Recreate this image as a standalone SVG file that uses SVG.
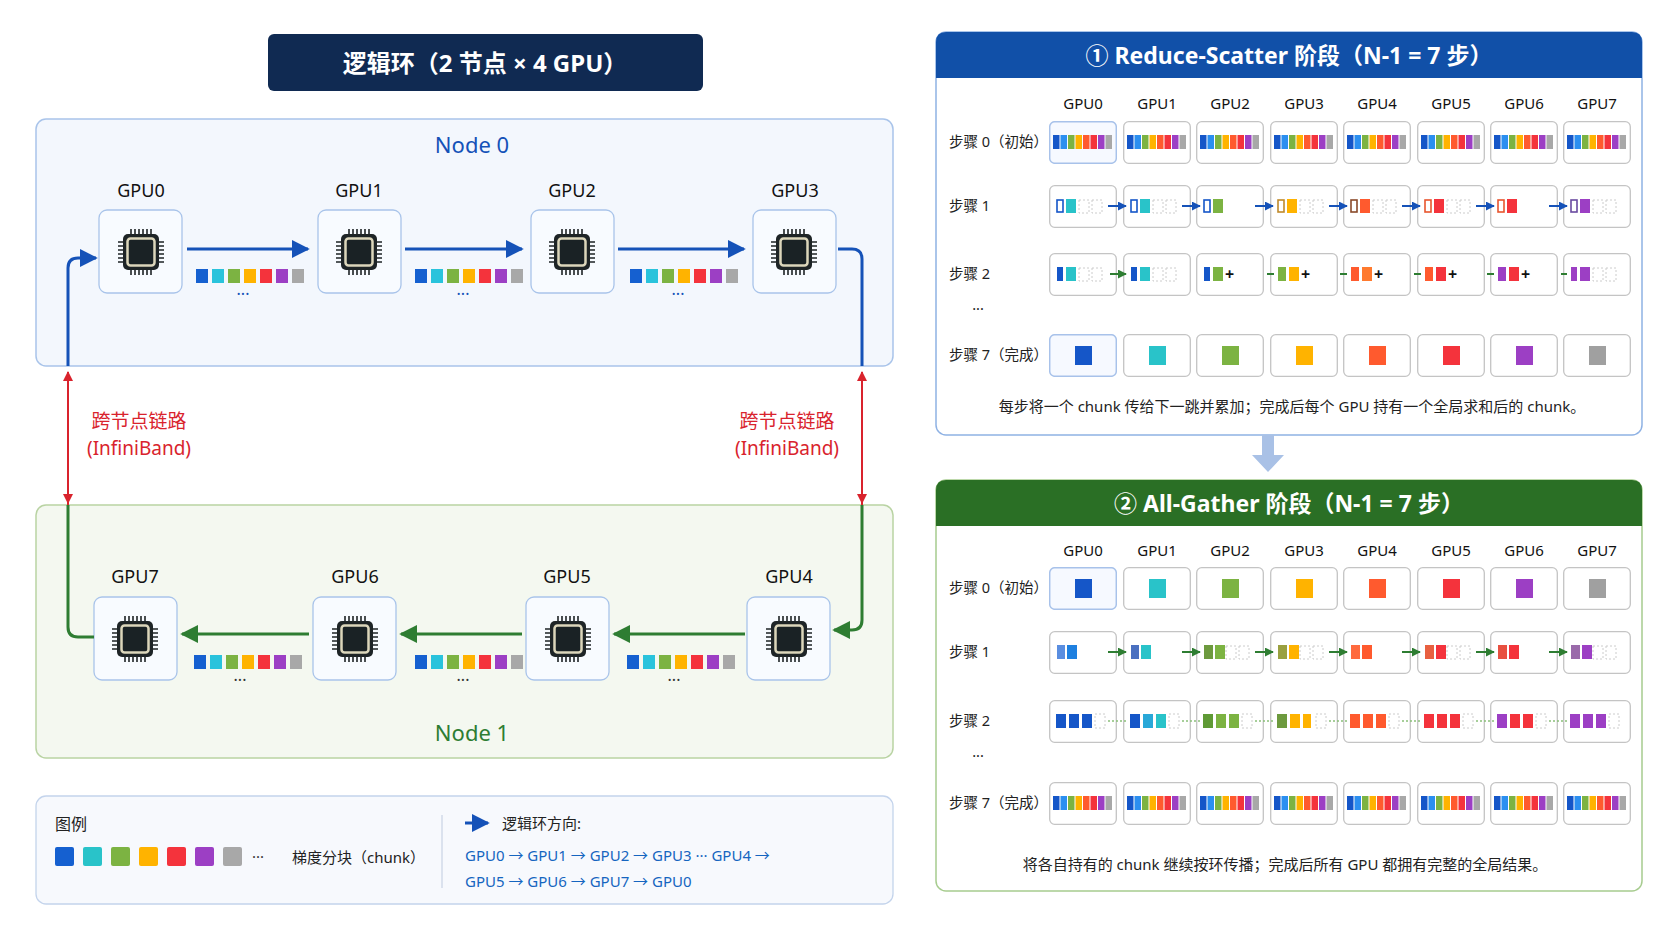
<svg xmlns="http://www.w3.org/2000/svg" xmlns:xlink="http://www.w3.org/1999/xlink" width="1672" height="941" viewBox="0 0 1672 941">
<style>
text{font-family:"Noto Sans","Noto Sans CJK SC",sans-serif;}
.gl{font-size:18px;fill:#111;text-anchor:middle;}
.gb{fill:#f8fbff;stroke:#a9c4ea;stroke-width:1.3;}
.cell{fill:#fff;stroke:#c4c4c4;stroke-width:1.3;}
.cellh{fill:#f6f9ff;stroke:#a8c2ea;stroke-width:1.5;}
.hd{font-size:15px;fill:#111;text-anchor:middle;}
.rl{font-size:14.5px;fill:#222;}
.dsh{fill:none;stroke:#ccc;stroke-dasharray:2 2;}
.rd{stroke:#d9232d;stroke-width:2;stroke-dasharray:6 5;fill:none;}
.red{font-size:19px;fill:#d9232d;text-anchor:middle;}
.bl{fill:#1565c0;font-size:15px;}
</style>
<defs>
<marker id="ab" viewBox="0 0 10 10" refX="9" refY="5" markerWidth="4.5" markerHeight="4.5" orient="auto"><path d="M0,0L10,5L0,10z" fill="#1552b8"/></marker>
<marker id="ag" viewBox="0 0 10 10" refX="9" refY="5" markerWidth="4.5" markerHeight="4.5" orient="auto"><path d="M0,0L10,5L0,10z" fill="#2e7d32"/></marker>
<marker id="ar" viewBox="0 0 10 10" refX="9" refY="5" markerWidth="5" markerHeight="5" orient="auto"><path d="M0,0L10,5L0,10z" fill="#d9232d"/></marker>
<marker id="sb" viewBox="0 0 10 10" refX="9" refY="5" markerWidth="6" markerHeight="6" orient="auto"><path d="M0,0L10,5L0,10z" fill="#1552b8"/></marker>
<marker id="sg" viewBox="0 0 10 10" refX="9" refY="5" markerWidth="6" markerHeight="6" orient="auto"><path d="M0,0L10,5L0,10z" fill="#2e7d32"/></marker>
<symbol id="chip" viewBox="0 0 50 50" width="50" height="50">
<g stroke="#1e2426" stroke-width="1.6">
<path d="M15,2v6M19,2v6M23,2v6M27,2v6M31,2v6M35,2v6M15,42v6M19,42v6M23,42v6M27,42v6M31,42v6M35,42v6M2,15h6M2,19h6M2,23h6M2,27h6M2,31h6M2,35h6M42,15h6M42,19h6M42,23h6M42,27h6M42,31h6M42,35h6"/></g>
<rect x="7" y="7" width="36" height="36" rx="5" fill="#1e2426"/>
<rect x="11.5" y="11.5" width="27" height="27" rx="3" fill="#1a2225" stroke="#dcd6bb" stroke-width="2.5"/>
</symbol>
<symbol id="s7" viewBox="0 0 108 14" width="108" height="14">
<rect x="0" y="0" width="12" height="14" fill="#1560d0"/><rect x="16" y="0" width="12" height="14" fill="#29c3dc"/><rect x="32" y="0" width="12" height="14" fill="#7cb342"/><rect x="48" y="0" width="12" height="14" fill="#ffb300"/><rect x="64" y="0" width="12" height="14" fill="#f4333c"/><rect x="80" y="0" width="12" height="14" fill="#9c3fc4"/><rect x="96" y="0" width="12" height="14" fill="#a8a8a8"/>
</symbol>
<symbol id="s8" viewBox="0 0 68 43" width="68" height="43">
<rect x="4" y="14" width="6.5" height="14" fill="#1556c8"/><rect x="11.5" y="14" width="6.5" height="14" fill="#2b8ff0"/><rect x="19" y="14" width="6.5" height="14" fill="#7cb342"/><rect x="26.5" y="14" width="6.5" height="14" fill="#ffb300"/><rect x="34" y="14" width="6.5" height="14" fill="#ff5a2e"/><rect x="41.5" y="14" width="6.5" height="14" fill="#f4333c"/><rect x="49" y="14" width="6.5" height="14" fill="#9c3fc4"/><rect x="56.5" y="14" width="6.5" height="14" fill="#a8a8a8"/>
</symbol>
<symbol id="c" viewBox="0 0 68 43" width="68" height="43"><rect class="cell" x="0.7" y="0.7" width="66.6" height="41.6" rx="5"/></symbol>
<symbol id="ch" viewBox="0 0 68 43" width="68" height="43"><rect class="cellh" x="0.7" y="0.7" width="66.6" height="41.6" rx="5"/></symbol>
<symbol id="dd" viewBox="0 0 68 43" width="68" height="43"><rect class="dsh" x="30" y="15" width="10" height="13"/><rect class="dsh" x="43" y="15" width="10" height="13"/></symbol>
</defs>
<rect width="1672" height="941" fill="#fff"/>

<g id="title"><rect x="268" y="34" width="435" height="57" rx="6" fill="#102a52"/><text x="485" y="72" font-size="24" font-weight="bold" fill="#fff" text-anchor="middle">逻辑环（2 节点 × 4 GPU）</text></g>

<g id="node0"><rect x="36" y="119" width="857" height="247" rx="10" fill="#f3f7fd" stroke="#a9c4ea" stroke-width="1.5"/><text x="472" y="153" font-size="22" fill="#1552b8" text-anchor="middle">Node 0</text></g>
<g id="node1"><rect x="36" y="505" width="857" height="253" rx="10" fill="#f4f8f0" stroke="#b9d3a3" stroke-width="1.5"/><text x="472" y="741" font-size="22" fill="#2e7d32" text-anchor="middle">Node 1</text></g>

<g id="gpu0"><text class="gl" x="141" y="197">GPU0</text><rect class="gb" x="99" y="210" width="83" height="83" rx="8"/><use href="#chip" x="116" y="227"/></g>
<g id="gpu1"><text class="gl" x="359" y="197">GPU1</text><rect class="gb" x="318" y="210" width="83" height="83" rx="8"/><use href="#chip" x="334" y="227"/></g>
<g id="gpu2"><text class="gl" x="572" y="197">GPU2</text><rect class="gb" x="531" y="210" width="83" height="83" rx="8"/><use href="#chip" x="547" y="227"/></g>
<g id="gpu3"><text class="gl" x="795" y="197">GPU3</text><rect class="gb" x="753" y="210" width="83" height="83" rx="8"/><use href="#chip" x="769" y="227"/></g>
<g id="gpu7"><text class="gl" x="135" y="583">GPU7</text><rect class="gb" x="94" y="597" width="83" height="83" rx="8"/><use href="#chip" x="110" y="614"/></g>
<g id="gpu6"><text class="gl" x="355" y="583">GPU6</text><rect class="gb" x="313" y="597" width="83" height="83" rx="8"/><use href="#chip" x="330" y="614"/></g>
<g id="gpu5"><text class="gl" x="567" y="583">GPU5</text><rect class="gb" x="526" y="597" width="83" height="83" rx="8"/><use href="#chip" x="543" y="614"/></g>
<g id="gpu4"><text class="gl" x="789" y="583">GPU4</text><rect class="gb" x="747" y="597" width="83" height="83" rx="8"/><use href="#chip" x="764" y="614"/></g>

<g id="connectors" fill="none">
<g stroke="#1552b8" stroke-width="3">
<path d="M187,249H308" marker-end="url(#sb)"/><path d="M405,249H522" marker-end="url(#sb)"/><path d="M618,249H744" marker-end="url(#sb)"/>
<path d="M838,249H852q10,0 10,10V366"/>
<path d="M68,366V268q0,-10 10,-10H96" marker-end="url(#sb)"/>
</g>
<g stroke="#2e7d32" stroke-width="3">
<path d="M309,634H182" marker-end="url(#sg)"/><path d="M522,634H401" marker-end="url(#sg)"/><path d="M745,634H614" marker-end="url(#sg)"/>
<path d="M862,505V620q0,10 -10,10H834" marker-end="url(#sg)"/>
<path d="M94,637H78q-10,0 -10,-10V505"/>
</g>
<path class="rd" d="M68,505V372" marker-end="url(#ar)"/><path class="rd" d="M68,372V503" marker-end="url(#ar)"/>
<path class="rd" d="M862,505V372" marker-end="url(#ar)"/><path class="rd" d="M862,372V503" marker-end="url(#ar)"/>
</g>
<g id="chunks">
<use href="#s7" x="196" y="269"/><use href="#s7" x="415" y="269"/><use href="#s7" x="630" y="269"/>
<use href="#s7" x="194" y="655"/><use href="#s7" x="415" y="655"/><use href="#s7" x="627" y="655"/>
<g font-size="16" fill="#1552b8" text-anchor="middle"><text x="243" y="300">···</text><text x="463" y="300">···</text><text x="678" y="300">···</text></g>
<g font-size="16" fill="#333" text-anchor="middle"><text x="240" y="686">···</text><text x="463" y="686">···</text><text x="674" y="686">···</text></g>
</g>
<g id="ib"><text class="red" x="139" y="428">跨节点链路</text><text class="red" x="139" y="455">(InfiniBand)</text><text class="red" x="787" y="428">跨节点链路</text><text class="red" x="787" y="455">(InfiniBand)</text></g>

<g id="legend"><rect x="36" y="796" width="857" height="108" rx="10" fill="#f7f9fd" stroke="#c4d4ec" stroke-width="1.3"/>
<text x="55" y="830" font-size="16" fill="#222">图例</text>
<rect x="55" y="847" width="19" height="19" rx="2" fill="#1560d0"/><rect x="83" y="847" width="19" height="19" rx="2" fill="#29c3c9"/><rect x="111" y="847" width="19" height="19" rx="2" fill="#7cb342"/><rect x="139" y="847" width="19" height="19" rx="2" fill="#ffb300"/><rect x="167" y="847" width="19" height="19" rx="2" fill="#f4333c"/><rect x="195" y="847" width="19" height="19" rx="2" fill="#9c3fc4"/><rect x="223" y="847" width="19" height="19" rx="2" fill="#a8a8a8"/>
<text x="252" y="862" font-size="15" fill="#333">···</text>
<text x="292" y="863" font-size="15" fill="#222">梯度分块（chunk）</text>
<path d="M442,815V888" stroke="#ccd6e6" stroke-width="1.3"/>
<path d="M465,823H488" stroke="#1552b8" stroke-width="3" marker-end="url(#sb)"/>
<text x="502" y="829" font-size="15" fill="#222">逻辑环方向:</text>
<text class="bl" x="465" y="861">GPU0 → GPU1 → GPU2 → GPU3 ··· GPU4 →</text>
<text class="bl" x="465" y="887">GPU5 → GPU6 → GPU7 → GPU0</text>
</g>

<g id="rs">
<rect x="936" y="32" width="706" height="403" rx="10" fill="#fff" stroke="#8fb2e4" stroke-width="1.5"/>
<path d="M946,32H1632q10,0 10,10V78H936V42q0,-10 10,-10z" fill="#1150a8"/>
<text x="1289" y="64" font-size="23" font-weight="bold" fill="#fff" text-anchor="middle">① Reduce-Scatter 阶段（N-1 = 7 步）</text>
<g class="hd"><text x="1083" y="109" class="hd">GPU0</text><text x="1157" y="109" class="hd">GPU1</text><text x="1230" y="109" class="hd">GPU2</text><text x="1304" y="109" class="hd">GPU3</text><text x="1377" y="109" class="hd">GPU4</text><text x="1451" y="109" class="hd">GPU5</text><text x="1524" y="109" class="hd">GPU6</text><text x="1597" y="109" class="hd">GPU7</text></g>
<text class="rl" x="949" y="147">步骤 0（初始）</text><text class="rl" x="949" y="211">步骤 1</text><text class="rl" x="949" y="279">步骤 2</text><text class="rl" x="978" y="314" text-anchor="middle">···</text><text class="rl" x="949" y="360">步骤 7（完成）</text>
<use href="#ch" x="1049" y="121"/><use href="#c" x="1123" y="121"/><use href="#c" x="1196" y="121"/><use href="#c" x="1270" y="121"/><use href="#c" x="1343" y="121"/><use href="#c" x="1417" y="121"/><use href="#c" x="1490" y="121"/><use href="#c" x="1563" y="121"/>
<use href="#s8" x="1049" y="121"/><use href="#s8" x="1123" y="121"/><use href="#s8" x="1196" y="121"/><use href="#s8" x="1270" y="121"/><use href="#s8" x="1343" y="121"/><use href="#s8" x="1417" y="121"/><use href="#s8" x="1490" y="121"/><use href="#s8" x="1563" y="121"/>
<!-- step1 -->
<use href="#c" x="1049" y="185"/><use href="#c" x="1123" y="185"/><use href="#c" x="1196" y="185"/><use href="#c" x="1270" y="185"/><use href="#c" x="1343" y="185"/><use href="#c" x="1417" y="185"/><use href="#c" x="1490" y="185"/><use href="#c" x="1563" y="185"/>
<use href="#dd" x="1049" y="185"/><use href="#dd" x="1123" y="185"/><use href="#dd" x="1270" y="185"/><use href="#dd" x="1343" y="185"/><use href="#dd" x="1417" y="185"/><use href="#dd" x="1563" y="185"/>
<g fill="none" stroke-width="1.6">
<rect x="1057" y="200" width="6" height="12" stroke="#1556c8"/><rect x="1131" y="200" width="6" height="12" stroke="#1556c8"/><rect x="1204" y="200" width="6" height="12" stroke="#1556c8"/><rect x="1278" y="200" width="6" height="12" stroke="#c08a2a"/><rect x="1351" y="200" width="6" height="12" stroke="#8a4a2a"/><rect x="1425" y="200" width="6" height="12" stroke="#e8552e"/><rect x="1498" y="200" width="6" height="12" stroke="#e8552e"/><rect x="1571" y="200" width="6" height="12" stroke="#6a4aa0"/>
</g>
<rect x="1066" y="199" width="10" height="14" fill="#29c3c9"/><rect x="1140" y="199" width="10" height="14" fill="#29c3c9"/><rect x="1213" y="199" width="10" height="14" fill="#7cb342"/><rect x="1287" y="199" width="10" height="14" fill="#ffb300"/><rect x="1360" y="199" width="10" height="14" fill="#ff5a2e"/><rect x="1434" y="199" width="10" height="14" fill="#f4333c"/><rect x="1507" y="199" width="10" height="14" fill="#f4333c"/><rect x="1580" y="199" width="10" height="14" fill="#9c3fc4"/>
<g stroke="#1552b8" stroke-width="2" fill="none">
<path d="M1108,206H1126" marker-end="url(#ab)"/><path d="M1182,206H1200" marker-end="url(#ab)"/><path d="M1255,206H1273" marker-end="url(#ab)"/><path d="M1329,206H1347" marker-end="url(#ab)"/><path d="M1402,206H1420" marker-end="url(#ab)"/><path d="M1476,206H1494" marker-end="url(#ab)"/><path d="M1549,206H1567" marker-end="url(#ab)"/>
</g>
<!-- step2 -->
<use href="#c" x="1049" y="253"/><use href="#c" x="1123" y="253"/><use href="#c" x="1196" y="253"/><use href="#c" x="1270" y="253"/><use href="#c" x="1343" y="253"/><use href="#c" x="1417" y="253"/><use href="#c" x="1490" y="253"/><use href="#c" x="1563" y="253"/>
<use href="#dd" x="1049" y="253"/><use href="#dd" x="1123" y="253"/><use href="#dd" x="1563" y="253"/>
<rect x="1057" y="267" width="6" height="14" fill="#1556c8"/><rect x="1131" y="267" width="6" height="14" fill="#1556c8"/><rect x="1204" y="267" width="6" height="14" fill="#1556c8"/><rect x="1278" y="267" width="8" height="14" fill="#7cb342"/><rect x="1351" y="267" width="8" height="14" fill="#ff5a2e"/><rect x="1425" y="267" width="8" height="14" fill="#ff5a2e"/><rect x="1498" y="267" width="8" height="14" fill="#9c3fc4"/><rect x="1571" y="267" width="6" height="14" fill="#9c3fc4"/>
<rect x="1066" y="267" width="10" height="14" fill="#29c3c9"/><rect x="1140" y="267" width="10" height="14" fill="#29c3c9"/><rect x="1213" y="267" width="10" height="14" fill="#7cb342"/><rect x="1289" y="267" width="10" height="14" fill="#ffb300"/><rect x="1362" y="267" width="10" height="14" fill="#ff7a2e"/><rect x="1436" y="267" width="10" height="14" fill="#f4333c"/><rect x="1509" y="267" width="10" height="14" fill="#f4333c"/><rect x="1580" y="267" width="10" height="14" fill="#9c3fc4"/>
<g font-size="16" font-weight="bold" fill="#111"><text x="1225" y="280">+</text><text x="1301" y="280">+</text><text x="1374" y="280">+</text><text x="1448" y="280">+</text><text x="1521" y="280">+</text></g>
<path d="M1110,274H1126" stroke="#2e7d32" stroke-width="2" marker-end="url(#ag)"/>
<g stroke="#2e7d32" stroke-width="2"><path d="M1267,274H1274M1340,274H1347M1414,274H1421M1487,274H1494M1561,274H1567"/></g>
<!-- step7 -->
<use href="#ch" x="1049" y="334"/><use href="#c" x="1123" y="334"/><use href="#c" x="1196" y="334"/><use href="#c" x="1270" y="334"/><use href="#c" x="1343" y="334"/><use href="#c" x="1417" y="334"/><use href="#c" x="1490" y="334"/><use href="#c" x="1563" y="334"/>
<rect x="1075" y="346" width="17" height="19" fill="#1556c8"/><rect x="1149" y="346" width="17" height="19" fill="#29c3c9"/><rect x="1222" y="346" width="17" height="19" fill="#7cb342"/><rect x="1296" y="346" width="17" height="19" fill="#ffb300"/><rect x="1369" y="346" width="17" height="19" fill="#ff5a2e"/><rect x="1443" y="346" width="17" height="19" fill="#f4333c"/><rect x="1516" y="346" width="17" height="19" fill="#9c3fc4"/><rect x="1589" y="346" width="17" height="19" fill="#a0a0a0"/>
<text x="1292" y="412" font-size="15" fill="#222" text-anchor="middle">每步将一个 chunk 传给下一跳并累加；完成后每个 GPU 持有一个全局求和后的 chunk。</text>
</g>

<g id="phase-arrow"><path d="M1262,435h12v20h10l-16,17l-16,-17h10z" fill="#a9c1e6"/></g>

<g id="ag">
<rect x="936" y="480" width="706" height="411" rx="10" fill="#fff" stroke="#a7cc8f" stroke-width="1.5"/>
<path d="M946,480H1632q10,0 10,10V526H936V490q0,-10 10,-10z" fill="#2a6f25"/>
<text x="1289" y="512" font-size="23" font-weight="bold" fill="#fff" text-anchor="middle">② All-Gather 阶段（N-1 = 7 步）</text>
<text x="1083" y="556" class="hd">GPU0</text><text x="1157" y="556" class="hd">GPU1</text><text x="1230" y="556" class="hd">GPU2</text><text x="1304" y="556" class="hd">GPU3</text><text x="1377" y="556" class="hd">GPU4</text><text x="1451" y="556" class="hd">GPU5</text><text x="1524" y="556" class="hd">GPU6</text><text x="1597" y="556" class="hd">GPU7</text>
<text class="rl" x="949" y="593">步骤 0（初始）</text><text class="rl" x="949" y="657">步骤 1</text><text class="rl" x="949" y="726">步骤 2</text><text class="rl" x="978" y="761" text-anchor="middle">···</text><text class="rl" x="949" y="808">步骤 7（完成）</text>
<use href="#ch" x="1049" y="567"/><use href="#c" x="1123" y="567"/><use href="#c" x="1196" y="567"/><use href="#c" x="1270" y="567"/><use href="#c" x="1343" y="567"/><use href="#c" x="1417" y="567"/><use href="#c" x="1490" y="567"/><use href="#c" x="1563" y="567"/>
<rect x="1075" y="579" width="17" height="19" fill="#1556c8"/><rect x="1149" y="579" width="17" height="19" fill="#29c3c9"/><rect x="1222" y="579" width="17" height="19" fill="#7cb342"/><rect x="1296" y="579" width="17" height="19" fill="#ffb300"/><rect x="1369" y="579" width="17" height="19" fill="#ff5a2e"/><rect x="1443" y="579" width="17" height="19" fill="#f4333c"/><rect x="1516" y="579" width="17" height="19" fill="#9c3fc4"/><rect x="1589" y="579" width="17" height="19" fill="#a0a0a0"/>
<!-- step1 -->
<use href="#c" x="1049" y="631"/><use href="#c" x="1123" y="631"/><use href="#c" x="1196" y="631"/><use href="#c" x="1270" y="631"/><use href="#c" x="1343" y="631"/><use href="#c" x="1417" y="631"/><use href="#c" x="1490" y="631"/><use href="#c" x="1563" y="631"/>
<use href="#dd" x="1196" y="631"/><use href="#dd" x="1270" y="631"/><use href="#dd" x="1417" y="631"/><use href="#dd" x="1563" y="631"/>
<rect x="1057" y="645" width="8" height="14" fill="#5a8ee0"/><rect x="1131" y="645" width="8" height="14" fill="#4a70c0"/><rect x="1204" y="645" width="9" height="14" fill="#6d9a3e"/><rect x="1278" y="645" width="9" height="14" fill="#9aa040"/><rect x="1351" y="645" width="9" height="14" fill="#ff6a3e"/><rect x="1425" y="645" width="9" height="14" fill="#e86040"/><rect x="1498" y="645" width="9" height="14" fill="#e85040"/><rect x="1571" y="645" width="9" height="14" fill="#9a6aaa"/>
<rect x="1067" y="645" width="10" height="14" fill="#1e80e0"/><rect x="1141" y="645" width="10" height="14" fill="#29c3c9"/><rect x="1215" y="645" width="10" height="14" fill="#7cb342"/><rect x="1289" y="645" width="10" height="14" fill="#ffb300"/><rect x="1362" y="645" width="10" height="14" fill="#ff5a2e"/><rect x="1436" y="645" width="10" height="14" fill="#f4333c"/><rect x="1509" y="645" width="10" height="14" fill="#f4333c"/><rect x="1582" y="645" width="10" height="14" fill="#9c3fc4"/>
<g stroke="#2e7d32" stroke-width="2" fill="none">
<path d="M1108,652H1126" marker-end="url(#ag)"/><path d="M1182,652H1200" marker-end="url(#ag)"/><path d="M1255,652H1273" marker-end="url(#ag)"/><path d="M1329,652H1347" marker-end="url(#ag)"/><path d="M1402,652H1420" marker-end="url(#ag)"/><path d="M1476,652H1494" marker-end="url(#ag)"/><path d="M1549,652H1567" marker-end="url(#ag)"/>
</g>
<!-- step2 -->
<use href="#c" x="1049" y="700"/><use href="#c" x="1123" y="700"/><use href="#c" x="1196" y="700"/><use href="#c" x="1270" y="700"/><use href="#c" x="1343" y="700"/><use href="#c" x="1417" y="700"/><use href="#c" x="1490" y="700"/><use href="#c" x="1563" y="700"/>
<g class="dsh"><rect x="1095" y="714" width="10" height="14"/><rect x="1169" y="714" width="10" height="14"/><rect x="1242" y="714" width="10" height="14"/><rect x="1316" y="714" width="10" height="14"/><rect x="1389" y="714" width="10" height="14"/><rect x="1463" y="714" width="10" height="14"/><rect x="1536" y="714" width="10" height="14"/><rect x="1609" y="714" width="10" height="14"/></g>
<rect x="1056" y="714" width="10" height="14" fill="#1556c8"/><rect x="1069" y="714" width="10" height="14" fill="#1556c8"/><rect x="1082" y="714" width="10" height="14" fill="#1556c8"/>
<rect x="1130" y="714" width="10" height="14" fill="#1556c8"/><rect x="1143" y="714" width="10" height="14" fill="#29a8d8"/><rect x="1156" y="714" width="10" height="14" fill="#29c3c9"/>
<rect x="1203" y="714" width="10" height="14" fill="#5f9a35"/><rect x="1216" y="714" width="10" height="14" fill="#7cb342"/><rect x="1229" y="714" width="10" height="14" fill="#7cb342"/>
<rect x="1277" y="714" width="10" height="14" fill="#6d9a3e"/><rect x="1290" y="714" width="10" height="14" fill="#ffb300"/><rect x="1303" y="714" width="8" height="14" fill="#ffb300"/>
<rect x="1350" y="714" width="10" height="14" fill="#ff5a2e"/><rect x="1363" y="714" width="10" height="14" fill="#ff5a2e"/><rect x="1376" y="714" width="10" height="14" fill="#ff5a2e"/>
<rect x="1424" y="714" width="10" height="14" fill="#f4333c"/><rect x="1437" y="714" width="10" height="14" fill="#f4333c"/><rect x="1450" y="714" width="10" height="14" fill="#f4333c"/>
<rect x="1497" y="714" width="10" height="14" fill="#9c3fc4"/><rect x="1510" y="714" width="10" height="14" fill="#f4333c"/><rect x="1523" y="714" width="10" height="14" fill="#f4333c"/>
<rect x="1570" y="714" width="10" height="14" fill="#9c3fc4"/><rect x="1583" y="714" width="10" height="14" fill="#9c3fc4"/><rect x="1596" y="714" width="10" height="14" fill="#9c3fc4"/>
<g stroke="#8bc07a" stroke-width="1.5" stroke-dasharray="2 2"><path d="M1108,721H1128M1182,721H1202M1255,721H1275M1329,721H1349M1402,721H1422M1476,721H1496M1549,721H1569"/></g>
<!-- step7 -->
<use href="#c" x="1049" y="782"/><use href="#c" x="1123" y="782"/><use href="#c" x="1196" y="782"/><use href="#c" x="1270" y="782"/><use href="#c" x="1343" y="782"/><use href="#c" x="1417" y="782"/><use href="#c" x="1490" y="782"/><use href="#c" x="1563" y="782"/>
<use href="#s8" x="1049" y="782"/><use href="#s8" x="1123" y="782"/><use href="#s8" x="1196" y="782"/><use href="#s8" x="1270" y="782"/><use href="#s8" x="1343" y="782"/><use href="#s8" x="1417" y="782"/><use href="#s8" x="1490" y="782"/><use href="#s8" x="1563" y="782"/>
<text x="1285" y="870" font-size="15" fill="#222" text-anchor="middle">将各自持有的 chunk 继续按环传播；完成后所有 GPU 都拥有完整的全局结果。</text>
</g>
</svg>
